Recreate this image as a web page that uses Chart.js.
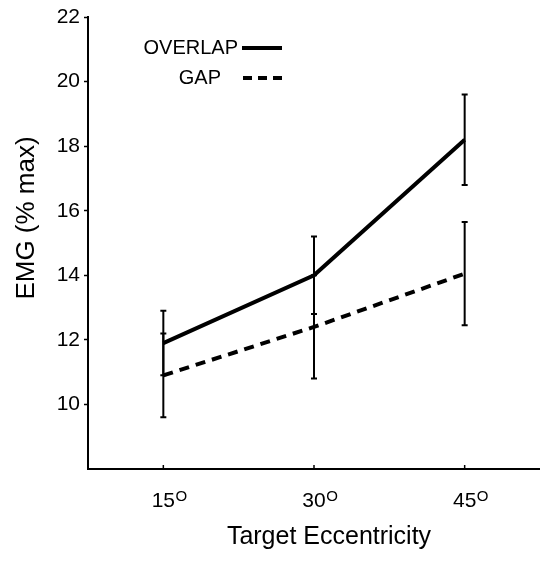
<!DOCTYPE html>
<html>
<head>
<meta charset="utf-8">
<script src="https://cdn.jsdelivr.net/npm/chart.js@4/dist/chart.umd.min.js"></script>
<style>
  html, body { margin: 0; padding: 0; background: #fff; }
  #wrap { width: 540px; height: 563px; }
</style>
</head>
<body>
<div id="wrap"><canvas id="c" width="540" height="563"></canvas></div>
<script>
// ---- data ----
const categories = [15, 30, 45];              // target eccentricity (deg)
const xTickLabels = ['15', '30', '45'];
const degreeMark = 'O';                        // superscript "O" after each x label
const yTicks = [10, 12, 14, 16, 18, 20, 22];
const overlapMean = [11.9, 14.0, 18.2];
const overlapErr  = [1.0, 1.2, 1.4];
const gapMean     = [10.9, 12.4, 14.05];
const gapErr      = [1.3, 1.6, 1.6];
const seriesNames = ['OVERLAP', 'GAP'];
const xTitle = 'Target Eccentricity';
const yTitle = 'EMG (% max)';

const FONT = "'Liberation Sans', Arial, Helvetica, sans-serif";
Chart.defaults.color = '#000';
Chart.defaults.font.family = FONT;

const toPoints = (ys) => categories.map((x, i) => ({ x: x, y: ys[i] }));

const errorBars = {
  id: 'errorBars',
  afterDatasetsDraw(chart) {
    const { ctx, scales: { x, y } } = chart;
    const sets = [[overlapMean, overlapErr], [gapMean, gapErr]];
    ctx.save();
    ctx.strokeStyle = '#000';
    ctx.lineWidth = 2;
    sets.forEach(([m, e]) => {
      categories.forEach((c, i) => {
        const px = x.getPixelForValue(c);
        const top = y.getPixelForValue(m[i] + e[i]);
        const bot = y.getPixelForValue(m[i] - e[i]);
        ctx.beginPath();
        ctx.moveTo(px, top); ctx.lineTo(px, bot);
        ctx.moveTo(px - 3, top); ctx.lineTo(px + 3, top);
        ctx.moveTo(px - 3, bot); ctx.lineTo(px + 3, bot);
        ctx.stroke();
      });
    });
    // inward tick marks on the x axis
    ctx.lineWidth = 1.5;
    categories.forEach(c => {
      const px = x.getPixelForValue(c);
      ctx.beginPath();
      ctx.moveTo(px, y.bottom); ctx.lineTo(px, y.bottom - 4);
      ctx.stroke();
    });
    ctx.restore();
  }
};

const textPlugin = {
  id: 'customText',
  afterDraw(chart) {
    const { ctx, scales: { x } } = chart;
    ctx.save();
    ctx.fillStyle = '#000';
    ctx.strokeStyle = '#000';
    // superscript O after each x tick label
    ctx.font = '21px ' + FONT;
    const labelY = x.top + 32;
    categories.forEach((c, i) => {
      const px = x.getPixelForValue(c);
      const w = ctx.measureText(xTickLabels[i]).width;
      ctx.save();
      ctx.font = '15px ' + FONT;
      ctx.textAlign = 'left';
      ctx.textBaseline = 'alphabetic';
      ctx.fillText(degreeMark, px + w / 2 + 0.5, labelY);
      ctx.restore();
    });
    // y axis title (rotated)
    ctx.save();
    ctx.translate(27, 218);
    ctx.rotate(-Math.PI / 2);
    ctx.font = '26px ' + FONT;
    ctx.textAlign = 'center';
    ctx.textBaseline = 'middle';
    ctx.fillText(yTitle, 0, 0);
    ctx.restore();
    // x axis title
    ctx.font = '25px ' + FONT;
    ctx.textAlign = 'center';
    ctx.textBaseline = 'middle';
    ctx.fillText(xTitle, 329, 537);
    // legend
    ctx.font = '20px ' + FONT;
    ctx.textAlign = 'right';
    ctx.textBaseline = 'middle';
    ctx.fillText(seriesNames[0], 238, 48);
    ctx.fillText(seriesNames[1], 221, 78);
    ctx.lineWidth = 4;
    ctx.beginPath(); ctx.moveTo(242, 48); ctx.lineTo(282, 48); ctx.stroke();
    ctx.setLineDash([9, 6]);
    ctx.beginPath(); ctx.moveTo(243, 78); ctx.lineTo(282, 78); ctx.stroke();
    ctx.restore();
  }
};

new Chart(document.getElementById('c'), {
  type: 'line',
  data: {
    datasets: [
      { label: seriesNames[0], data: toPoints(overlapMean), borderColor: '#000', borderWidth: 4, pointRadius: 0, tension: 0, fill: false },
      { label: seriesNames[1], data: toPoints(gapMean), borderColor: '#000', borderWidth: 4, borderDash: [10, 7], pointRadius: 0, tension: 0, fill: false }
    ]
  },
  options: {
    responsive: false,
    devicePixelRatio: 1,
    animation: false,
    layout: { padding: { left: 9, top: 17, right: 0, bottom: 8 } },
    plugins: { legend: { display: false }, tooltip: { enabled: false } },
    scales: {
      x: {
        type: 'linear', min: 7.5, max: 52.5,
        afterBuildTicks: (s) => { s.ticks = categories.map(v => ({ value: v })); },
        afterFit: (s) => { s.height = 86; },
        ticks: {
          autoSkip: false, maxRotation: 0, padding: 20,
          font: { size: 21, family: FONT },
          callback: (v) => xTickLabels[categories.indexOf(v)]
        },
        grid: { display: true, drawOnChartArea: false, drawTicks: false, color: '#000' },
        border: { display: true, color: '#000', width: 2 },
        title: { display: false }
      },
      y: {
        min: 8, max: 22,
        afterBuildTicks: (s) => { s.ticks = yTicks.map(v => ({ value: v })); },
        afterFit: (s) => { s.width = 79; },
        ticks: { padding: 4, font: { size: 21, family: FONT } },
        grid: { display: true, drawOnChartArea: false, drawTicks: true, tickLength: 4, tickWidth: 1.5, color: '#000' },
        border: { display: true, color: '#000', width: 2 },
        title: { display: false }
      }
    }
  },
  plugins: [errorBars, textPlugin]
});
</script>
</body>
</html>
